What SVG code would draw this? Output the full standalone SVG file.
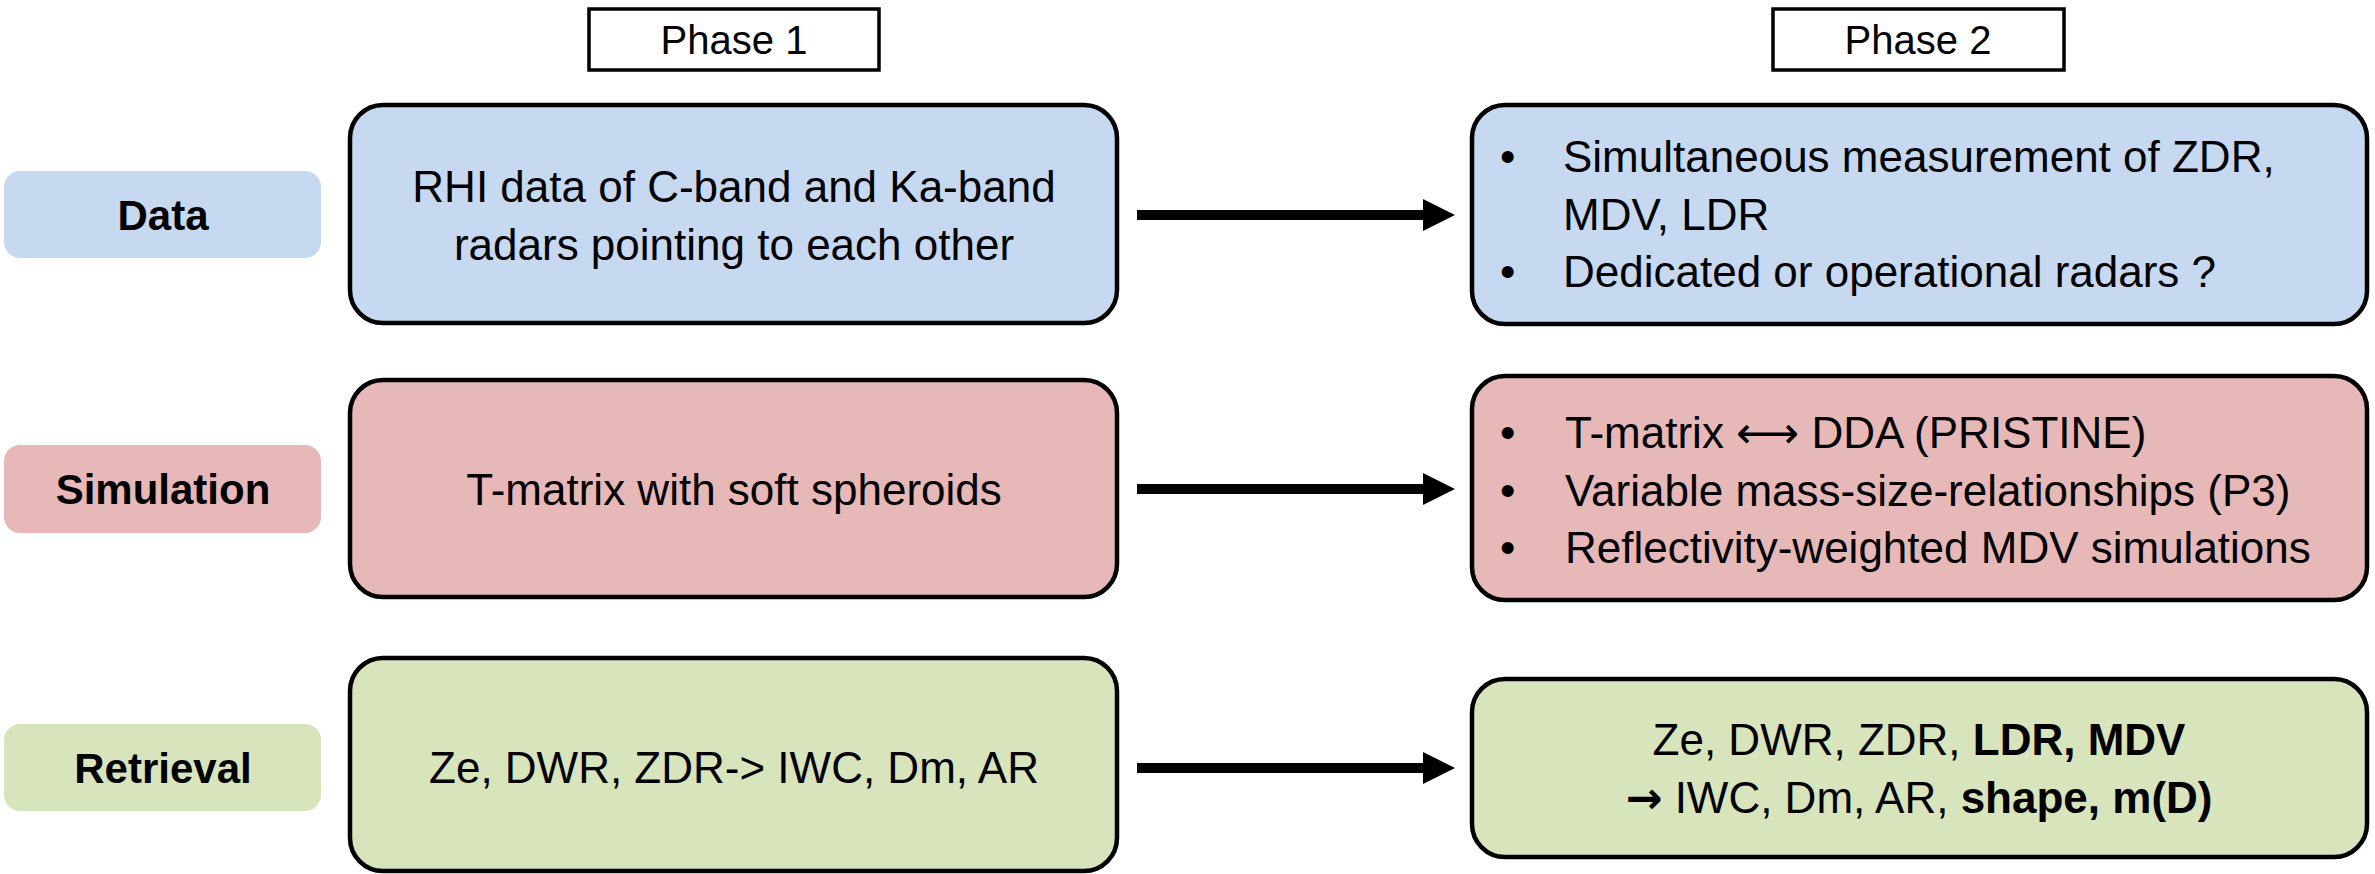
<svg xmlns="http://www.w3.org/2000/svg" width="2375" height="874" viewBox="0 0 2375 874">
<style>
text{font-family:"Liberation Sans",Arial,sans-serif;fill:#000}
.t{font-size:44px}
.lab{font-size:42px;font-weight:bold;text-anchor:middle}
.ph{font-size:40px;text-anchor:middle}
.c{text-anchor:middle}
.b{font-weight:bold}
.box{stroke:#000;stroke-width:4.5}
.phase{fill:#fff;stroke:#000;stroke-width:3.5}
.blue{fill:#c6d9f0}
.pink{fill:#e6b8b7}
.green{fill:#d8e4bc}
.arr{fill:#000}
</style>
<defs>
<g id="arrow"><rect x="1137" y="-5" width="288" height="10"/><polygon points="1423,-16 1455,0 1423,16"/></g>
</defs>
<g id="phase1"><rect class="phase" x="589" y="9" width="290" height="61"/><text class="ph" x="734" y="54">Phase 1</text></g>
<g id="phase2"><rect class="phase" x="1773" y="9" width="291" height="61"/><text class="ph" x="1918" y="54">Phase 2</text></g>

<g id="label-data"><rect class="blue" x="4" y="171" width="317" height="87" rx="16"/><text class="lab" x="163" y="230">Data</text></g>
<g id="label-simulation"><rect class="pink" x="4" y="445" width="317" height="88" rx="16"/><text class="lab" x="163" y="504">Simulation</text></g>
<g id="label-retrieval"><rect class="green" x="4" y="724" width="317" height="87" rx="16"/><text class="lab" x="163" y="783">Retrieval</text></g>

<g id="data-p1"><rect class="box blue" x="350" y="105" width="767" height="218" rx="33"/>
<text class="t c" x="734" y="202">RHI data of C-band and Ka-band</text>
<text class="t c" x="734" y="260">radars pointing to each other</text></g>

<g id="sim-p1"><rect class="box pink" x="350" y="380" width="767" height="217" rx="33"/>
<text class="t c" x="734" y="505">T-matrix with soft spheroids</text></g>

<g id="ret-p1"><rect class="box green" x="350" y="658" width="767" height="213" rx="33"/>
<text class="t c" x="734" y="783">Ze, DWR, ZDR-&gt; IWC, Dm, AR</text></g>

<g id="data-p2"><rect class="box blue" x="1472" y="105" width="895" height="219" rx="33"/>
<text class="t" x="1500" y="172">•</text><text class="t" x="1563" y="172">Simultaneous measurement of ZDR,</text>
<text class="t" x="1563" y="230">MDV, LDR</text>
<text class="t" x="1500" y="287">•</text><text class="t" x="1563" y="287">Dedicated or operational radars ?</text></g>

<g id="sim-p2"><rect class="box pink" x="1472" y="376" width="895" height="224" rx="33"/>
<text class="t" x="1500" y="448">•</text><text class="t" x="1565" y="448">T-matrix <tspan font-family="DejaVu Sans, sans-serif">⟷</tspan> DDA (PRISTINE)</text>
<text class="t" x="1500" y="506">•</text><text class="t" x="1565" y="506">Variable mass-size-relationships (P3)</text>
<text class="t" x="1500" y="563">•</text><text class="t" x="1565" y="563">Reflectivity-weighted MDV simulations</text></g>

<g id="ret-p2"><rect class="box green" x="1472" y="679" width="895" height="178" rx="33"/>
<text class="t c" x="1919" y="755">Ze, DWR, ZDR, <tspan class="b">LDR, MDV</tspan></text>
<text class="t c" x="1919" y="813"><tspan class="b" font-family="DejaVu Sans, sans-serif">→</tspan> IWC, Dm, AR, <tspan class="b">shape, m(D)</tspan></text></g>

<g id="connectors">
<use href="#arrow" y="215"/>
<use href="#arrow" y="489"/>
<use href="#arrow" y="768"/>
</g>
</svg>
